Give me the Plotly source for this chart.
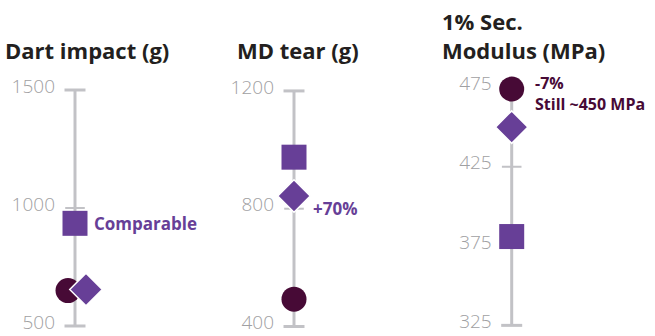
import plotly.graph_objects as go

# ---------------- data ----------------
titles = ["Dart impact (g)", "MD tear (g)", "1% Sec.<br>Modulus (MPa)"]
tick_vals = [[500, 1000, 1500], [400, 800, 1200], [325, 375, 425, 475]]
circle_vals = [650, 493, 474]
square_vals = [935, 975, 381]
diamond_vals = [655, 843, 450]
circle_jitter = [-7, 0, 0]
square_jitter = [0, 0, 0]
diamond_jitter = [11, 0, 0]
notes = ["Comparable", "+70%", "-7%<br>Still ~450 MPa"]

# ---------------- layout helpers ----------------
W, H = 655, 336
line_px = [75, 294, 511.7]          # pixel x of each vertical axis line
y_ranges = [[457.6, 1627.1], [367.8, 1305.0], [318.3, 492.3]]
y_dom = [0, 1 - 60 / H]
LEFT, RIGHT = 16, 130
FONT = "Open Sans"

DARK = "#470a36"
PURP = "#673f97"
AXC = "#c2c2c6"
LBL = "#a0a0a2"
TXT = "#231f20"

fig = go.Figure()
annotations = []

for i in range(3):
    xa = "x" if i == 0 else f"x{i+1}"
    ya = "y" if i == 0 else f"y{i+1}"
    tv = tick_vals[i]
    lo, hi = min(tv), max(tv)
    # axis spine
    fig.add_trace(go.Scatter(x=[0, 0], y=[lo, hi], mode="lines",
                             line=dict(color=AXC, width=3), xaxis=xa, yaxis=ya,
                             hoverinfo="skip", showlegend=False))
    # end caps
    fig.add_trace(go.Scatter(x=[0, 0], y=[lo, hi], mode="markers",
                             marker=dict(symbol="line-ew", size=15,
                                         line=dict(color=AXC, width=3)),
                             xaxis=xa, yaxis=ya, cliponaxis=False,
                             hoverinfo="skip", showlegend=False))
    mids = tv[1:-1]
    fig.add_trace(go.Scatter(x=[0] * len(mids), y=mids, mode="markers",
                             marker=dict(symbol="line-ew", size=14,
                                         line=dict(color=AXC, width=2)),
                             xaxis=xa, yaxis=ya, cliponaxis=False,
                             hoverinfo="skip", showlegend=False))
    # data markers
    fig.add_trace(go.Scatter(x=[circle_jitter[i]], y=[circle_vals[i]], mode="markers",
                             marker=dict(symbol="circle", size=25, color=DARK),
                             xaxis=xa, yaxis=ya, cliponaxis=False, showlegend=False))
    fig.add_trace(go.Scatter(x=[square_jitter[i]], y=[square_vals[i]], mode="markers",
                             marker=dict(symbol="square", size=25, color=PURP),
                             xaxis=xa, yaxis=ya, cliponaxis=False, showlegend=False))
    fig.add_trace(go.Scatter(x=[diamond_jitter[i]], y=[diamond_vals[i]], mode="markers",
                             marker=dict(symbol="diamond", size=25, color=PURP,
                                         line=dict(color="white", width=1.5)),
                             xaxis=xa, yaxis=ya, cliponaxis=False, showlegend=False))

    d0 = (line_px[i] - LEFT) / W
    d1 = (line_px[i] + RIGHT) / W
    fig.layout[("xaxis" if i == 0 else f"xaxis{i+1}")] = dict(
        domain=[d0, d1], range=[-LEFT, RIGHT], visible=False, anchor=ya,
        automargin=False)
    fig.layout[("yaxis" if i == 0 else f"yaxis{i+1}")] = dict(
        domain=y_dom, range=y_ranges[i], anchor=xa, automargin=False,
        tickvals=tv, ticktext=[str(v) for v in tv],
        tickfont=dict(family=FONT, size=19, color=LBL, weight=300),
        showgrid=False, zeroline=False, showline=False, ticks="",
        ticklabelstandoff=3, ticklabelshift=-4, ticklabeloverflow="allow")

# titles
title_x = [3, 235, 440]
title_y = [50, 50, 35.5]
for i in range(3):
    annotations.append(dict(text=titles[i], xref="paper", yref="paper",
                            x=title_x[i] / W, y=1 - title_y[i] / H,
                            xanchor="left", yanchor="middle", showarrow=False,
                            align="left",
                            font=dict(family=FONT, size=22, color=TXT, weight="bold")))

# notes
note_font = dict(family=FONT, size=17, weight="bold")
annotations.append(dict(text=notes[0], xref="x", yref="y", x=17, y=square_vals[0],
                        xanchor="left", yanchor="middle", showarrow=False,
                        font=dict(note_font, color=PURP)))
annotations.append(dict(text=notes[1], xref="x2", yref="y2", x=17, y=tick_vals[1][1],
                        xanchor="left", yanchor="middle", showarrow=False,
                        font=dict(note_font, color=PURP)))
annotations.append(dict(text=notes[2], xref="x3", yref="y3", x=21, y=circle_vals[2],
                        xanchor="left", yanchor="middle", showarrow=False, align="left",
                        yshift=-4,
                        font=dict(note_font, size=16, color=DARK)))

fig.update_layout(width=W, height=H, margin=dict(l=0, r=0, t=0, b=0),
                  paper_bgcolor="white", plot_bgcolor="white",
                  annotations=annotations, showlegend=False)

fig.write_html("out.html")
